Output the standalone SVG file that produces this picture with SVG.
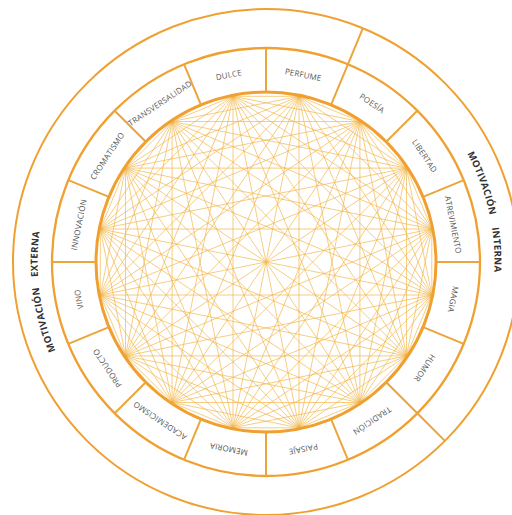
<svg xmlns="http://www.w3.org/2000/svg" xmlns:xlink="http://www.w3.org/1999/xlink" width="512" height="515" viewBox="0 0 512 515">
<style>
.ring{fill:none;stroke:#F0A030}
.dv{stroke:#EBA53A;stroke-width:2}
.ch{fill:none;stroke:#F2B445;stroke-width:0.9;stroke-opacity:0.75;stroke-linejoin:round}
.lbl{font-family:"Open Sans","DejaVu Sans",sans-serif;font-size:8px;fill:#555;text-anchor:middle;letter-spacing:0.2px}
.big{font-family:"Open Sans","DejaVu Sans",sans-serif;font-size:9.6px;font-weight:bold;fill:#333;text-anchor:middle;letter-spacing:0.3px}
</style>
<defs>
<line id="d1" x1="266" y1="92" x2="266" y2="48"/>
<line id="d2" x1="266" y1="48" x2="266" y2="9"/>
<path id="arcR" d="M336.61,44.67 A228.5,228.5 0 0 1 418.89,431.80"/>
<path id="arcL" d="M176.72,472.34 A228.5,228.5 0 0 1 128.49,79.52"/>
</defs>
<rect width="512" height="515" fill="#fff"/>
<g id="connectors">
<polygon class="ch" points="299,96.3 359.9,121.5 406.5,168.1 431.8,229 431.8,295 406.5,355.9 359.9,402.5 299,427.8 233,427.8 172.1,402.5 125.5,355.9 100.3,295 100.3,229 125.5,168.1 172.1,121.5 233,96.3"/>
<polygon class="ch" points="299,96.3 431.8,229 359.9,402.5 172.1,402.5 100.3,229 233,96.3 406.5,168.1 406.5,355.9 233,427.8 100.3,295 172.1,121.5 359.9,121.5 431.8,295 299,427.8 125.5,355.9 125.5,168.1"/>
<polygon class="ch" points="299,96.3 406.5,355.9 125.5,355.9 233,96.3 431.8,295 172.1,402.5 172.1,121.5 431.8,229 233,427.8 125.5,168.1 406.5,168.1 299,427.8 100.3,229 359.9,121.5 359.9,402.5 100.3,295"/>
<polygon class="ch" points="299,96.3 299,427.8 172.1,121.5 406.5,355.9 100.3,229 431.8,229 125.5,355.9 359.9,121.5 233,427.8 233,96.3 359.9,402.5 125.5,168.1 431.8,295 100.3,295 406.5,168.1 172.1,402.5"/>
<polygon class="ch" points="299,96.3 406.5,168.1 431.8,295 359.9,402.5 233,427.8 125.5,355.9 100.3,229 172.1,121.5"/>
<polygon class="ch" points="359.9,121.5 431.8,229 406.5,355.9 299,427.8 172.1,402.5 100.3,295 125.5,168.1 233,96.3"/>
<polygon class="ch" points="299,96.3 359.9,402.5 100.3,229 406.5,168.1 233,427.8 172.1,121.5 431.8,295 125.5,355.9"/>
<polygon class="ch" points="359.9,121.5 299,427.8 125.5,168.1 431.8,229 172.1,402.5 233,96.3 406.5,355.9 100.3,295"/>
<polygon class="ch" points="299,96.3 431.8,295 233,427.8 100.3,229"/>
<polygon class="ch" points="359.9,121.5 406.5,355.9 172.1,402.5 125.5,168.1"/>
<polygon class="ch" points="406.5,168.1 359.9,402.5 125.5,355.9 172.1,121.5"/>
<polygon class="ch" points="431.8,229 299,427.8 100.3,295 233,96.3"/>
<path class="ch" d="M299,96.3L233,427.8M359.9,121.5L172.1,402.5M406.5,168.1L125.5,355.9M431.8,229L100.3,295M431.8,295L100.3,229M406.5,355.9L125.5,168.1M359.9,402.5L172.1,121.5M299,427.8L233,96.3"/>
</g>
<g id="rings">
<circle class="ring" cx="266" cy="262" r="253" stroke-width="2"/>
<circle class="ring" cx="266" cy="262" r="214" stroke-width="2.3"/>
<circle class="ring" cx="266" cy="262" r="170" stroke-width="3"/>
</g>
<g id="dividers" class="dv">
<use xlink:href="#d1" href="#d1"/>
<use xlink:href="#d1" href="#d1" transform="rotate(22.5 266 262)"/>
<use xlink:href="#d1" href="#d1" transform="rotate(45 266 262)"/>
<use xlink:href="#d1" href="#d1" transform="rotate(67.5 266 262)"/>
<use xlink:href="#d1" href="#d1" transform="rotate(90 266 262)"/>
<use xlink:href="#d1" href="#d1" transform="rotate(112.5 266 262)"/>
<use xlink:href="#d1" href="#d1" transform="rotate(135 266 262)"/>
<use xlink:href="#d1" href="#d1" transform="rotate(157.5 266 262)"/>
<use xlink:href="#d1" href="#d1" transform="rotate(180 266 262)"/>
<use xlink:href="#d1" href="#d1" transform="rotate(202.5 266 262)"/>
<use xlink:href="#d1" href="#d1" transform="rotate(225 266 262)"/>
<use xlink:href="#d1" href="#d1" transform="rotate(247.5 266 262)"/>
<use xlink:href="#d1" href="#d1" transform="rotate(270 266 262)"/>
<use xlink:href="#d1" href="#d1" transform="rotate(292.5 266 262)"/>
<use xlink:href="#d1" href="#d1" transform="rotate(315 266 262)"/>
<use xlink:href="#d1" href="#d1" transform="rotate(337.5 266 262)"/>
<use xlink:href="#d2" href="#d2" transform="rotate(22.5 266 262)"/>
<use xlink:href="#d2" href="#d2" transform="rotate(135 266 262)"/>
</g>
<g id="n-perfume"><text class="lbl" x="266" y="74" transform="rotate(11.25 266 262)">PERFUME</text></g>
<g id="n-poesia"><text class="lbl" x="266" y="74" transform="rotate(33.75 266 262)">POESÍA</text></g>
<g id="n-libertad"><text class="lbl" x="266" y="74" transform="rotate(56.25 266 262)">LIBERTAD</text></g>
<g id="n-atrevimiento"><text class="lbl" x="266" y="74" transform="rotate(78.75 266 262)">ATREVIMIENTO</text></g>
<g id="n-magia"><text class="lbl" x="266" y="74" transform="rotate(101.25 266 262)">MAGIA</text></g>
<g id="n-humor"><text class="lbl" x="266" y="74" transform="rotate(123.75 266 262)">HUMOR</text></g>
<g id="n-tradicion"><text class="lbl" x="266" y="74" transform="rotate(146.25 266 262)">TRADICIÓN</text></g>
<g id="n-paisaje"><text class="lbl" x="266" y="74" transform="rotate(168.75 266 262)">PAISAJE</text></g>
<g id="n-memoria"><text class="lbl" x="266" y="74" transform="rotate(191.25 266 262)">MEMORIA</text></g>
<g id="n-academicismo"><text class="lbl" x="266" y="74" transform="rotate(213.75 266 262)">ACADEMICISMO</text></g>
<g id="n-producto"><text class="lbl" x="266" y="74" transform="rotate(236.25 266 262)">PRODUCTO</text></g>
<g id="n-vino"><text class="lbl" x="266" y="74" transform="rotate(258.75 266 262)">VINO</text></g>
<g id="n-innovacion"><text class="lbl" x="266" y="74" transform="rotate(281.25 266 262)">INNOVACIÓN</text></g>
<g id="n-cromatismo"><text class="lbl" x="266" y="74" transform="rotate(303.75 266 262)">CROMATISMO</text></g>
<g id="n-transversalidad"><text class="lbl" x="266" y="74" transform="rotate(326.25 266 262)">TRANSVERSALIDAD</text></g>
<g id="n-dulce"><text class="lbl" x="266" y="74" transform="rotate(348.75 266 262)">DULCE</text></g>
<g id="n-interna"><text class="big"><textPath xlink:href="#arcR" href="#arcR" startOffset="207">MOTIVACIÓN</textPath></text><text class="big"><textPath xlink:href="#arcR" href="#arcR" startOffset="275">INTERNA</textPath></text></g>
<g id="n-externa"><text class="big"><textPath xlink:href="#arcL" href="#arcL" startOffset="209">MOTIVACIÓN</textPath></text><text class="big"><textPath xlink:href="#arcL" href="#arcL" startOffset="275">EXTERNA</textPath></text></g>
</svg>
